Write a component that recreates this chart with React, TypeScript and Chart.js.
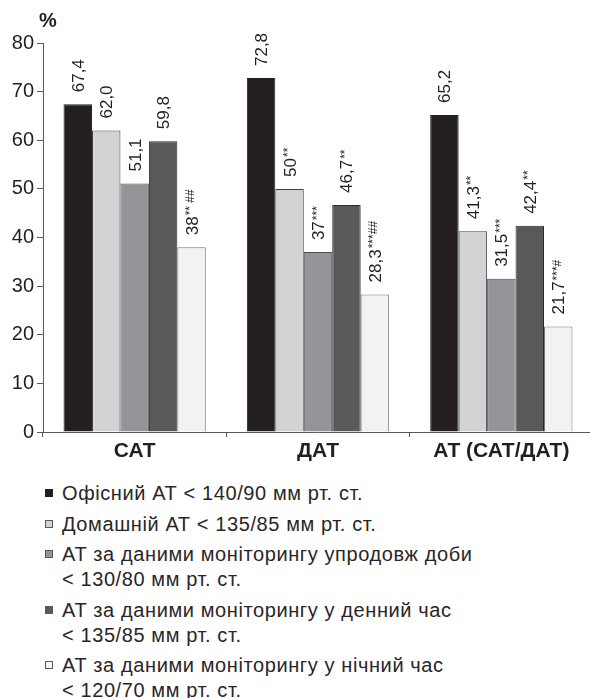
import React, { useEffect, useRef } from "react";
import { Chart, registerables } from "chart.js";

Chart.register(...registerables);

// ---- data ----
const categories = ["САТ", "ДАТ", "АТ (САТ/ДАТ)"];

const officeValues = [67.4, 72.8, 65.2];
const homeValues = [62.0, 50, 41.3];
const dayAvgValues = [51.1, 37, 31.5];
const daytimeValues = [59.8, 46.7, 42.4];
const nightValues = [38, 28.3, 21.7];

const officeLabels = ["67,4", "72,8", "65,2"];
const homeLabels = ["62,0", "50", "41,3"];
const dayAvgLabels = ["51,1", "37", "31,5"];
const daytimeLabels = ["59,8", "46,7", "42,4"];
const nightLabels = ["38", "28,3", "21,7"];

const officeMarks = ["", "", ""];
const homeMarks = ["", "**", "**"];
const dayAvgMarks = ["", "***", "***"];
const daytimeMarks = ["", "**", "**"];
const nightMarks = ["** ##", "***##", "***#"];

const officeLegend = ["Офісний АТ < 140/90 мм рт. ст."];
const homeLegend = ["Домашній АТ < 135/85 мм рт. ст."];
const dayAvgLegend = ["АТ за даними моніторингу упродовж доби", "< 130/80 мм рт. ст."];
const daytimeLegend = ["АТ за даними моніторингу у денний час", "< 135/85 мм рт. ст."];
const nightLegend = ["АТ за даними моніторингу у нічний час", "< 120/70 мм рт. ст."];

const yMin = 0;
const yMax = 80;
const yStep = 10;
const unitLabel = "%";

const series = [
  { values: officeValues, labels: officeLabels, marks: officeMarks, legend: officeLegend, color: "#231f20", border: "#231f20" },
  { values: homeValues, labels: homeLabels, marks: homeMarks, legend: homeLegend, color: "#d1d3d4", border: "#414042" },
  { values: dayAvgValues, labels: dayAvgLabels, marks: dayAvgMarks, legend: dayAvgLegend, color: "#939598", border: "#4d4d4f" },
  { values: daytimeValues, labels: daytimeLabels, marks: daytimeMarks, legend: daytimeLegend, color: "#58595b", border: "#2b2b2b" },
  { values: nightValues, labels: nightLabels, marks: nightMarks, legend: nightLegend, color: "#f1f2f2", border: "#77787b" },
];

const FONT = "'Liberation Sans', Arial, sans-serif";
const TEXT = "#231f20";
const AXIS = "#58595b";

const valueLabelPlugin = {
  id: "valueLabels",
  afterDatasetsDraw(chart: any) {
    const ctx = chart.ctx;
    chart.data.datasets.forEach((_ds: any, di: number) => {
      const meta = chart.getDatasetMeta(di);
      const s = series[di];
      meta.data.forEach((bar: any, i: number) => {
        const main = s.labels[i];
        const sup = s.marks[i];
        ctx.save();
        ctx.translate(bar.x, bar.y - 12);
        ctx.rotate(-Math.PI / 2);
        ctx.fillStyle = TEXT;
        ctx.textAlign = "left";
        ctx.textBaseline = "alphabetic";
        ctx.font = `17px ${FONT}`;
        ctx.fillText(main, 0, 6);
        if (sup) {
          const w = ctx.measureText(main).width;
          ctx.font = `12px ${FONT}`;
          ctx.fillText(sup, w + 1, 2.5);
        }
        ctx.restore();
      });
    });
  },
};

const unitPlugin = {
  id: "unitLabel",
  afterDraw(chart: any) {
    const ctx = chart.ctx;
    ctx.save();
    ctx.fillStyle = TEXT;
    ctx.font = `bold 20px ${FONT}`;
    ctx.textAlign = "center";
    ctx.textBaseline = "middle";
    ctx.fillText(unitLabel, chart.chartArea.left + 5, 21);
    ctx.restore();
  },
};

function BarChart() {
  const ref = useRef<HTMLCanvasElement | null>(null);
  useEffect(() => {
    if (!ref.current) return;
    const chart = new Chart(ref.current, {
      type: "bar",
      data: {
        labels: categories,
        datasets: series.map((s) => ({
          label: s.legend.join(" "),
          data: s.values,
          backgroundColor: s.color,
          borderColor: s.border,
          borderWidth: 1,
          borderSkipped: "bottom",
          categoryPercentage: 0.776,
          barPercentage: 1.0,
        })),
      },
      options: {
        responsive: false,
        animation: false,
        layout: { padding: { top: 43, left: 0, right: 0, bottom: 0 } },
        plugins: {
          legend: { display: false },
          tooltip: { enabled: false },
        },
        scales: {
          x: {
            offset: true,
            grid: { display: true, offset: true, drawOnChartArea: false, drawTicks: true, tickLength: 5, color: AXIS },
            border: { display: true, color: AXIS, width: 1 },
            ticks: { color: TEXT, font: { family: FONT, size: 21, weight: "bold" }, padding: 2, maxRotation: 0 },
            afterFit: (scale: any) => {
              scale.height = 40;
            },
          },
          y: {
            min: yMin,
            max: yMax,
            grid: { display: true, drawOnChartArea: false, drawTicks: true, tickLength: 6, color: AXIS },
            border: { display: true, color: AXIS, width: 1 },
            ticks: { stepSize: yStep, color: TEXT, font: { family: FONT, size: 20 }, padding: 3 },
            afterFit: (scale: any) => {
              scale.width = 43;
            },
          },
        },
      },
      plugins: [valueLabelPlugin, unitPlugin],
    });
    return () => chart.destroy();
  }, []);
  return <canvas ref={ref} width={593} height={472} style={{ display: "block", width: 593, height: 472 }} />;
}

export default function App() {
  return (
    <div
      style={{
        position: "absolute",
        top: 0,
        left: 0,
        width: 590,
        height: 698,
        overflow: "hidden",
        background: "#fff",
        fontFamily: FONT,
        color: TEXT,
      }}
    >
      <BarChart />
      <div style={{ position: "absolute", top: 481, left: 0, width: 590 }}>
        {series.map((s, i) => (
          <div
            key={i}
            style={{
              position: "relative",
              paddingLeft: 62,
              fontSize: 20,
              letterSpacing: "0.6px",
              lineHeight: "25px",
              marginBottom: 5.5,
              whiteSpace: "nowrap",
              color: "#2a2627",
            }}
          >
            <span
              style={{
                position: "absolute",
                left: 45,
                top: 8,
                width: 8,
                height: 8,
                boxSizing: "border-box",
                background: s.color,
                border: `1px solid ${i === 0 ? s.color : "#58595b"}`,
              }}
            />
            {s.legend.map((line, j) => (
              <div key={j}>{line}</div>
            ))}
          </div>
        ))}
      </div>
    </div>
  );
}
